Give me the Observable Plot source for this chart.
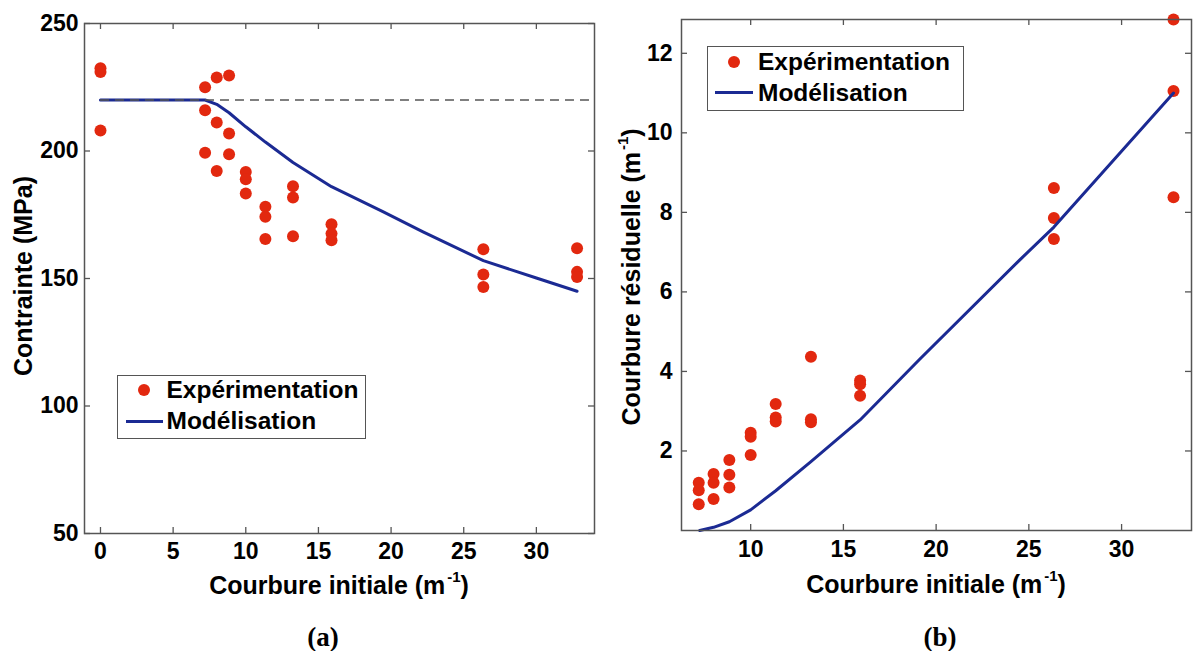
<!DOCTYPE html>
<html>
<head>
<meta charset="utf-8">
<script src="https://cdn.jsdelivr.net/npm/d3@7"></script>
<script src="https://cdn.jsdelivr.net/npm/@observablehq/plot@0.6"></script>
<style>
  html, body { margin: 0; padding: 0; background: #fff; }
  #root { position: relative; width: 1193px; height: 651px; overflow: hidden; font-family: "Liberation Sans", Arial, sans-serif; font-weight: bold; color: #000; }
  .panel { position: absolute; top: 0; }
  .txt { position: absolute; white-space: nowrap; line-height: 1; }
  .legend { position: absolute; border: 1.5px solid #555; box-sizing: border-box; background: #fff; }
  .sup { font-size: 0.6em; position: relative; top: -0.8em; margin-left: 0.12em; }
</style>
</head>
<body>
<div id="root"></div>
<script>
// ---------- Panel (a): Contrainte vs Courbure initiale ----------
const aExpX = [0, 0, 0, 7.2, 7.2, 7.2, 8.0, 8.0, 8.0, 8.85, 8.85, 8.85, 10.0, 10.0, 10.0,
               11.35, 11.35, 11.35, 13.25, 13.25, 13.25, 15.9, 15.9, 15.9, 26.35, 26.35, 26.35, 32.8, 32.8, 32.8];
const aExpY = [232.5, 231, 208, 225, 216, 199.3, 228.8, 211.2, 192.2, 229.6, 206.9, 198.7, 191.8, 188.9, 183.3,
               178.1, 174.2, 165.5, 186.2, 181.8, 166.6, 171.3, 167.6, 165, 161.5, 151.6, 146.7, 161.9, 152.6, 150.6];
const aModX = [0, 7.2, 8.0, 8.85, 10.0, 11.35, 13.25, 15.9, 19.4, 22.2, 26.35, 30.0, 32.8];
const aModY = [220, 220, 218.3, 215, 209.5, 203.5, 195.5, 186, 176.3, 168.3, 157, 150.2, 145];
const aRefStress = [220];
const aXTicks = [0, 5, 10, 15, 20, 25, 30];
const aYTicks = [50, 100, 150, 200, 250];

// ---------- Panel (b): Courbure résiduelle vs Courbure initiale ----------
const bExpX = [7.2, 7.2, 7.2, 8.0, 8.0, 8.0, 8.85, 8.85, 8.85, 10.0, 10.0, 10.0,
               11.35, 11.35, 11.35, 13.25, 13.25, 13.25, 15.9, 15.9, 15.9, 26.35, 26.35, 26.35, 32.8, 32.8, 32.8];
const bExpY = [1.2, 1.01, 0.66, 1.42, 1.2, 0.79, 1.77, 1.4, 1.08, 2.46, 2.36, 1.9,
               3.18, 2.84, 2.74, 4.37, 2.8, 2.72, 3.77, 3.68, 3.39, 8.61, 7.86, 7.33, 12.85, 11.05, 8.38];
const bModX = [7.25, 8.0, 8.85, 10.0, 11.35, 13.25, 14.55, 15.9, 19.1, 24.5, 26.35, 32.8];
const bModY = [0, 0.08, 0.22, 0.52, 1.0, 1.73, 2.25, 2.78, 4.3, 6.8, 7.63, 11.0];
const bXTicks = [10, 15, 20, 25, 30];
const bYTicks = [2, 4, 6, 8, 10, 12];

const seriesNames = ["Expérimentation", "Modélisation"];
const RED = "#e2280f", BLUE = "#1b2a93", FRAME = "#555";

const zip = (xs, ys) => xs.map((x, i) => ({x, y: ys[i]}));
const root = document.getElementById("root");

function panel({left, width, height, mt, mr, mb, ml, xDomain, yDomain, exp, mod, xTicks, yTicks, padX, padY, extra}) {
  const pw = width - ml - mr, ph = height - mt - mb;
  const tickStyle = {stroke: FRAME, strokeWidth: 1.3};
  const svg = Plot.plot({
    width, height, marginTop: mt, marginRight: mr, marginBottom: mb, marginLeft: ml,
    x: {domain: xDomain}, y: {domain: yDomain},
    style: {fontFamily: "'Liberation Sans', Arial, sans-serif", fontSize: "23px", fontWeight: "bold", color: "#000", background: "transparent", overflow: "visible"},
    marks: [
      Plot.axisX(xTicks, {anchor: "bottom", tickSize: 0, tickPadding: padX, label: null}),
      Plot.axisY(yTicks, {anchor: "left", tickSize: 0, tickPadding: padY, label: null}),
      Plot.tickX(xTicks, {x: d => d, insetTop: ph - 6, ...tickStyle}),
      Plot.tickX(xTicks, {x: d => d, insetBottom: ph - 6, ...tickStyle}),
      Plot.tickY(yTicks, {y: d => d, insetRight: pw - 6, ...tickStyle}),
      Plot.tickY(yTicks, {y: d => d, insetLeft: pw - 6, ...tickStyle}),
      Plot.dot(exp, {x: "x", y: "y", r: 6, fill: RED}),
      Plot.line(mod, {x: "x", y: "y", stroke: BLUE, strokeWidth: 3}),
      ...(extra || []),
      Plot.frame({stroke: FRAME, strokeWidth: 1.5})
    ]
  });
  const wrap = document.createElement("div");
  wrap.className = "panel";
  wrap.style.left = left + "px";
  wrap.appendChild(svg);
  root.appendChild(wrap);
}

panel({
  left: 0, width: 600, height: 600, mt: 23, mr: 6, mb: 67, ml: 84,
  xDomain: [-1.1, 34], yDomain: [50, 250],
  exp: zip(aExpX, aExpY), mod: zip(aModX, aModY),
  xTicks: aXTicks, yTicks: aYTicks, padX: 9, padY: 6,
  extra: [Plot.ruleY(aRefStress, {x1: 0, x2: 34, stroke: "#555", strokeWidth: 1.3, strokeDasharray: "9,6"})]
});
panel({
  left: 600, width: 593, height: 600, mt: 19, mr: 2, mb: 70, ml: 81,
  xDomain: [6.27, 33.77], yDomain: [0, 12.85],
  exp: zip(bExpX, bExpY), mod: zip(bModX, bModY),
  xTicks: bXTicks, yTicks: bYTicks, padX: 10, padY: 9
});

// ---------- text (titles, legends, captions) ----------
function addText(html, x, y, {size = 25, rotate = false, font = null, anchor = "center"} = {}) {
  const d = document.createElement("div");
  d.className = "txt";
  d.innerHTML = html;
  d.style.fontSize = size + "px";
  if (font) d.style.fontFamily = font;
  d.style.left = x + "px";
  d.style.top = y + "px";
  const tx = anchor === "center" ? "-50%" : "0";
  d.style.transform = `translate(${tx}, -50%)` + (rotate ? " rotate(-90deg)" : "");
  root.appendChild(d);
  return d;
}

const curvLabel = 'Courbure initiale (m<span class="sup">-1</span>)';
addText(curvLabel, 339, 585);
addText(curvLabel, 936, 584);
addText("Contrainte (MPa)", 23, 276, {rotate: true});
addText('Courbure résiduelle (m<span class="sup">-1</span>)', 631, 277, {rotate: true});
addText("(a)", 323, 637, {size: 27, font: "'Liberation Serif', 'Times New Roman', serif"});
addText("(b)", 940, 637, {size: 27, font: "'Liberation Serif', 'Times New Roman', serif"});

function legend(bx, by, bw, bh, mx, r1, r2, lx1, lx2, tx) {
  const box = document.createElement("div");
  box.className = "legend";
  Object.assign(box.style, {left: bx + "px", top: by + "px", width: bw + "px", height: bh + "px"});
  root.appendChild(box);
  const dot = document.createElement("div");
  Object.assign(dot.style, {position: "absolute", left: (mx - 6) + "px", top: (r1 - 6) + "px", width: "12px", height: "12px", borderRadius: "50%", background: RED});
  root.appendChild(dot);
  const ln = document.createElement("div");
  Object.assign(ln.style, {position: "absolute", left: lx1 + "px", top: (r2 - 1.5) + "px", width: (lx2 - lx1) + "px", height: "3px", background: BLUE});
  root.appendChild(ln);
  addText(seriesNames[0], tx, r1, {size: 24.5, anchor: "start"});
  addText(seriesNames[1], tx, r2, {size: 24.5, anchor: "start"});
}
legend(117, 375, 249, 64, 143.5, 390, 421, 125.5, 162.5, 166.5);
legend(707, 46, 257, 65, 734.3, 61.5, 92.8, 714.6, 753.2, 758);
</script>
</body>
</html>
